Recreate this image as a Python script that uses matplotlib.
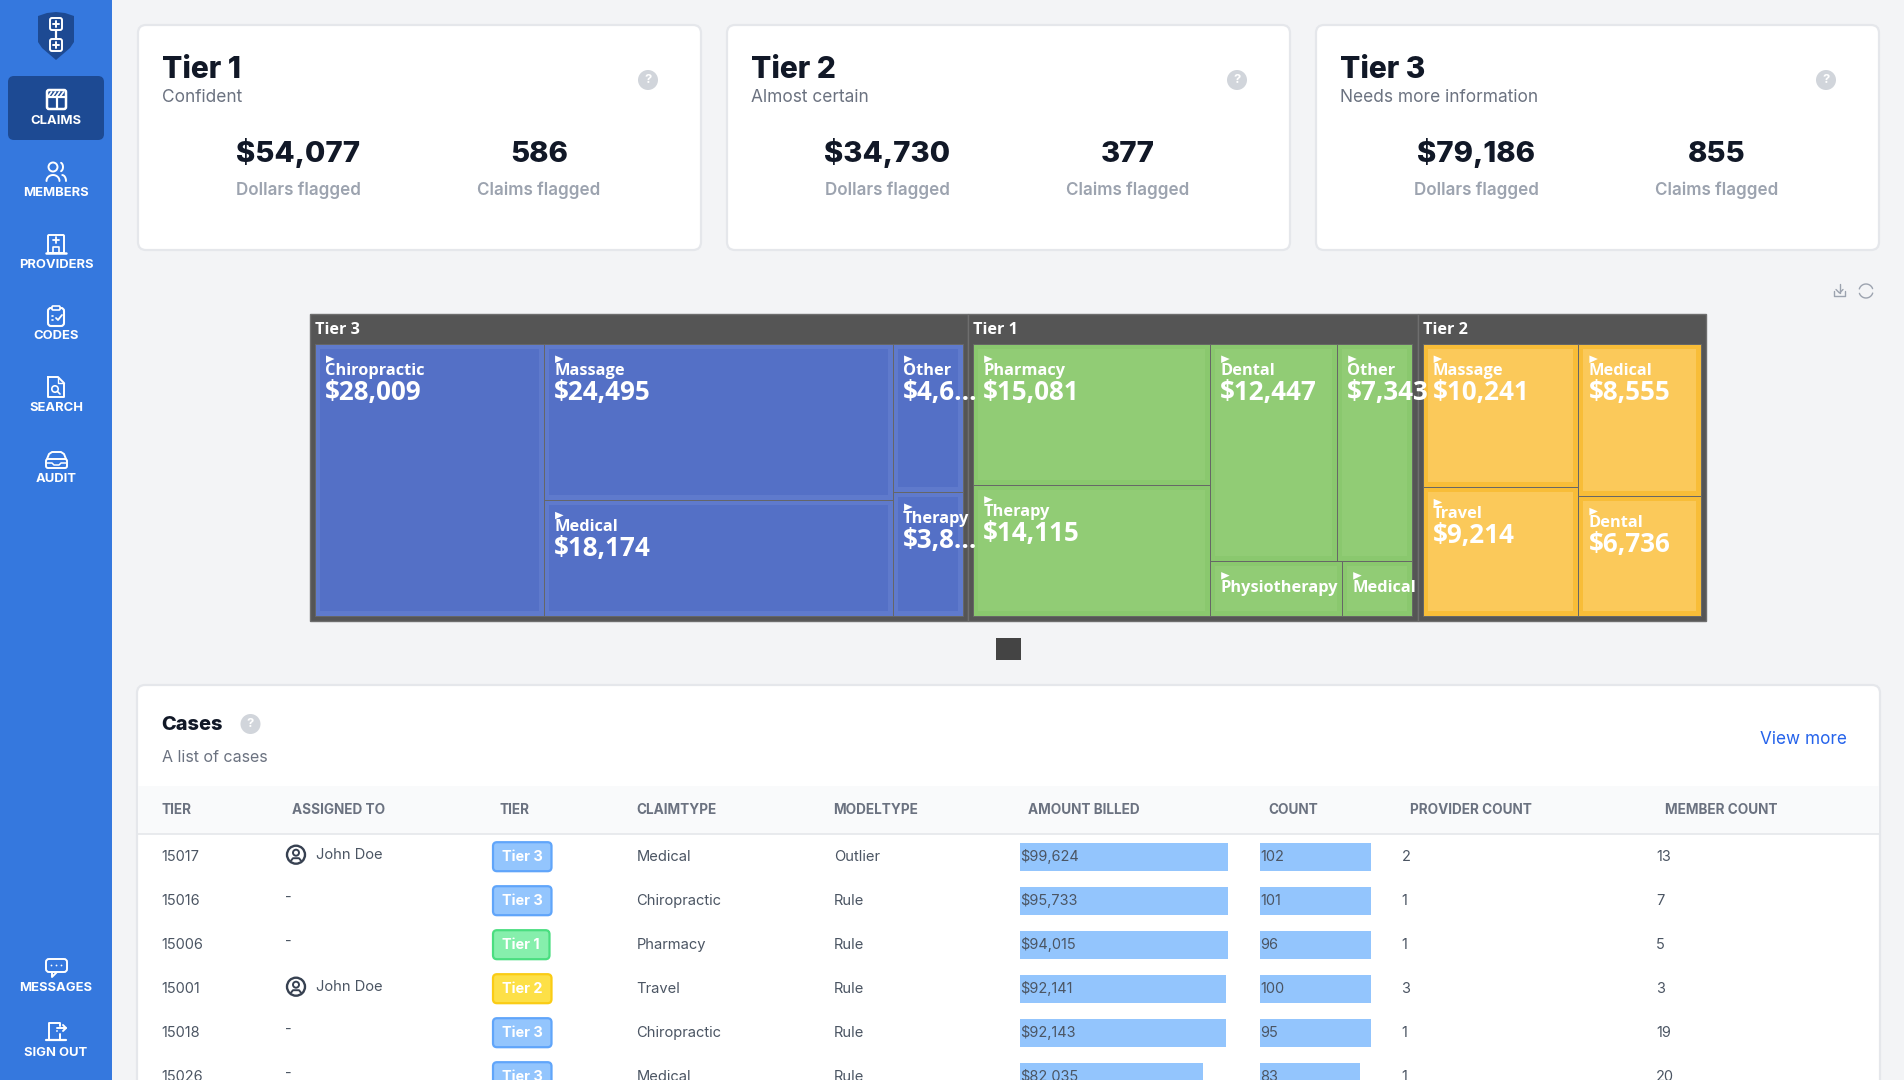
import matplotlib
matplotlib.use('Agg')
import matplotlib.pyplot as plt
import numpy as np
from matplotlib.patches import FancyBboxPatch, Rectangle, Circle, Polygon

# top cards
card_names = ['Tier 1', 'Tier 2', 'Tier 3']
card_subs = ['Confident', 'Almost certain', 'Needs more information']
card_dollars = [54077, 34730, 79186]
card_claims = [586, 377, 855]

# treemap, left to right
tier_names = ['Tier 3', 'Tier 1', 'Tier 2']
tier_totals = [79186, 54077, 34730]
tier_colors = [('#5470c6', '#5f7acc'), ('#91cc75', '#8ac86e'), ('#fbc95a', '#f8bd38')]
tier3_names = ['Chiropractic', 'Massage', 'Medical', 'Other', 'Therapy']
tier3_values = [28009, 24495, 18174, 4625, 3883]
tier3_shown = ['$28,009', '$24,495', '$18,174', '$4,6...', '$3,8...']
tier3_tree = [[0], [1, 2], [3, 4]]
tier1_names = ['Pharmacy', 'Therapy', 'Dental', 'Other', 'Physiotherapy', 'Medical']
tier1_values = [15081, 14115, 12447, 7343, 3328, 1763]
tier1_shown = ['$15,081', '$14,115', '$12,447', '$7,343', '', '']
tier1_tree = [[0, 1], [[2, 3], [4, 5]]]
tier2_names = ['Massage', 'Travel', 'Medical', 'Dental']
tier2_values = [10241, 9214, 8555, 6736]
tier2_shown = ['$10,241', '$9,214', '$8,555', '$6,736']
tier2_tree = [[0, 1], [2, 3]]

# cases table
case_ids = [15017, 15016, 15006, 15001, 15018, 15026]
case_assigned = ['John Doe', '-', '-', 'John Doe', '-', '-']
case_tiers = ['Tier 3', 'Tier 3', 'Tier 1', 'Tier 2', 'Tier 3', 'Tier 3']
case_claimtypes = ['Medical', 'Chiropractic', 'Pharmacy', 'Travel', 'Chiropractic', 'Medical']
case_modeltypes = ['Outlier', 'Rule', 'Rule', 'Rule', 'Rule', 'Rule']
case_amounts = [99624, 95733, 94015, 92141, 92143, 82035]
case_counts = [102, 101, 96, 100, 95, 83]
case_providers = [2, 1, 1, 3, 1, 1]
case_members = [13, 7, 5, 3, 19, 20]
table_headers = ['TIER', 'ASSIGNED TO', 'TIER', 'CLAIMTYPE', 'MODELTYPE',
                 'AMOUNT BILLED', 'COUNT', 'PROVIDER COUNT', 'MEMBER COUNT']
nav_top = ['CLAIMS', 'MEMBERS', 'PROVIDERS', 'CODES', 'SEARCH', 'AUDIT']
nav_bottom = ['MESSAGES', 'SIGN OUT']

UI = ['Inter', 'DejaVu Sans']
MAP = ['Open Sans', 'DejaVu Sans']
PT = 0.72  # css px to pt at dpi 100

fig = plt.figure(figsize=(19.04, 10.8), dpi=100, facecolor='#f3f4f6')
ax = fig.add_axes([0, 0, 1, 1])
ax.set_xlim(0, 1904)
ax.set_ylim(1080, 0)
ax.axis('off')


def box(x, y, w, h, fc, ec='none', lw=0, r=6, z=1):
    p = FancyBboxPatch((x, y), w, h, boxstyle='round,pad=0,rounding_size=%g' % r,
                       fc=fc, ec=ec, lw=lw, zorder=z)
    ax.add_patch(p)


def label(x, y, s, px, color='#4b5563', weight='normal', ha='left', fam=UI, z=5, va='center'):
    ax.text(x, y, s, fontsize=px * PT, color=color, fontweight=weight, ha=ha,
            va=va, family=fam, zorder=z)


def help_icon(x, y):
    ax.add_patch(Circle((x, y), 10, fc='#d1d5db', ec='none', zorder=3))
    label(x, y, '?', 13, color='white', weight='bold', ha='center')


def line(xs, ys, color='white', lw=1.4, z=4):
    ax.plot(xs, ys, color=color, lw=lw, zorder=z, solid_capstyle='round')


# sidebar
ax.add_patch(Rectangle((0, 0), 112, 1080, fc='#3578de', ec='none', zorder=1))
box(8, 76, 96, 64, '#1d4a93', z=2)
ax.add_patch(Polygon([(38, 16), (47, 13), (56, 12), (65, 13), (74, 16), (74, 42), (70, 48), (56, 60), (42, 48), (38, 42)],
                     fc='#1d4a93', ec='none', zorder=2))
line([56, 56], [30, 39], lw=1.6)
for cy in (24, 45):
    box(50, cy - 6, 12, 12, '#1d4a93', ec='white', lw=1.4, r=2, z=3)
    line([53, 59], [cy, cy])
    line([56, 56], [cy - 3, cy + 3])

nav_y = [120.7, 192.7, 264.7, 336, 408, 479]
for s, y in zip(nav_top, nav_y):
    label(56, y, s, 13, color='white', weight='bold', ha='center')
for s, y in zip(nav_bottom, [988, 1052.5]):
    label(56, y, s, 13, color='white', weight='bold', ha='center')

# claims icon
box(47, 90, 19, 19, 'none', ec='white', lw=1.8, r=2, z=4)
line([47, 66], [97, 97], lw=1.6)
line([56.5, 56.5], [97, 109], lw=1.6)
for dx in (48.5, 52.5, 56.5, 60.5):
    line([dx, dx + 3], [96, 92], lw=1.3)
# members icon
ax.add_patch(Circle((53, 167), 4.5, fc='none', ec='white', lw=1.4, zorder=4))
th = np.linspace(np.pi, 2 * np.pi, 20)
line(53 + 6.5 * np.cos(th), 181 + 6 * np.sin(th))
th2 = np.linspace(-1.2, 1.2, 12)
line(60 + 3 * np.cos(th2), 167 + 4.5 * np.sin(th2))
th3 = np.linspace(-1.5, 0, 10)
line(62 + 4 * np.cos(th3), 181 + 6 * np.sin(th3))
# providers icon
box(48, 235, 16, 18, 'none', ec='white', lw=1.4, r=1, z=4)
line([46, 66], [253, 253], lw=1.8)
line([53, 59], [240, 240], lw=1.3)
line([56, 56], [237, 243], lw=1.3)
line([53, 53, 59, 59], [253, 247, 247, 253], lw=1.2)
# codes icon
box(48, 308, 16, 18, 'none', ec='white', lw=1.5, r=3, z=4)
box(52, 306, 8, 4, '#3578de', ec='white', lw=1.2, r=1, z=5)
line([56, 58, 62], [318, 320, 315], lw=1.3)
line([52, 53], [316, 316], lw=1.2)
line([52, 53], [320, 320], lw=1.2)
# search icon
line([48, 58, 64, 64, 48, 48], [377, 377, 383, 397, 397, 377])
line([58, 58, 64], [377, 383, 383], lw=1)
ax.add_patch(Circle((55, 389), 3.2, fc='none', ec='white', lw=1.2, zorder=4))
line([57.5, 60], [391.5, 394], lw=1.2)
# audit icon
box(46, 459, 21, 9, 'none', ec='white', lw=1.4, r=2, z=4)
line([47, 49, 52, 61, 64, 66], [459, 454, 452, 452, 454, 459])
line([46, 52, 54, 59, 61, 67], [463, 463, 465, 465, 463, 463], lw=1.1)
# messages icon
box(46, 959, 21, 13, 'none', ec='white', lw=1.4, r=3, z=4)
line([52, 52, 57], [972, 977, 972])
for dx in (51.5, 56.5, 61.5):
    ax.add_patch(Circle((dx, 965.5), 0.9, fc='white', ec='none', zorder=4))
# sign out icon
line([49, 49, 60, 60], [1040, 1023, 1023, 1026])
line([60, 60], [1034, 1040])
line([46, 66], [1040, 1040], lw=1.6)
line([57, 66], [1028, 1028])
line([63, 66, 63], [1025, 1028, 1031])
ax.add_patch(Circle((57, 1031), 0.9, fc='white', ec='none', zorder=4))

# cards
card_x = [138, 727, 1316]
for x, name, sub, d, c in zip(card_x, card_names, card_subs, card_dollars, card_claims):
    box(x, 25, 563, 225, 'white', ec='#e5e7eb', lw=1.6, r=8)
    label(x + 24, 78, name, 30, color='#111827', weight='heavy', va='baseline')
    label(x + 24, 98, sub, 17.3, color='#6b7280')
    label(x + 160, 162, '${:,}'.format(d), 29.4, color='#111827', weight='heavy', ha='center', va='baseline')
    label(x + 401, 162, '{}'.format(c), 29.4, color='#111827', weight='heavy', ha='center', va='baseline')
    label(x + 160, 190, 'Dollars flagged', 17, color='#9ca3af', weight='semibold', ha='center')
    label(x + 401, 190, 'Claims flagged', 17, color='#9ca3af', weight='semibold', ha='center')
    help_icon(x + 510, 80)

# toolbar icons over the treemap
g = '#9ca3af'
line([1834, 1834, 1845, 1845], [291, 296, 296, 291], color=g, lw=1)
line([1839.5, 1839.5], [284, 293], color=g, lw=1)
line([1836, 1839.5, 1843], [289.5, 293, 289.5], color=g, lw=1)
th = np.linspace(0.3, 2.8, 20)
line(1866 + 7 * np.cos(th), 291 + 7 * np.sin(th), color=g, lw=1)
line(1866 + 7 * np.cos(th + np.pi), 291 + 7 * np.sin(th + np.pi), color=g, lw=1)


# treemap: slice each node along alternating directions, sizes come from the values
def weight(node, values):
    if isinstance(node, list):
        return sum(weight(n, values) for n in node)
    return values[node]


def place(node, values, x, y, w, h, across, out):
    if not isinstance(node, list):
        out[node] = (x, y, w, h)
        return
    total = weight(node, values)
    for n in node:
        f = weight(n, values) / total
        if across:
            place(n, values, x, y, w * f, h, False, out)
            x += w * f
        else:
            place(n, values, x, y, w, h * f, True, out)
            y += h * f


map_x, map_y, map_w, map_h = 310, 314, 1396.3, 307.3
tier_data = [(tier3_names, tier3_values, tier3_shown, tier3_tree),
             (tier1_names, tier1_values, tier1_shown, tier1_tree),
             (tier2_names, tier2_values, tier2_shown, tier2_tree)]
tx = map_x
for tname, total, (fill, band), (names, values, shown, tree) in zip(
        tier_names, tier_totals, tier_colors, tier_data):
    tw = map_w * total / sum(tier_totals)
    ax.add_patch(Rectangle((tx, map_y), tw, map_h, fc='#555555', ec='#6e6e6e', lw=1, zorder=2))
    label(tx + 5, map_y + 15.5, tname, 16.3, color='white', weight='bold', fam=MAP)
    rects = {}
    place(tree, values, tx + 5, map_y + 30, tw - 10.5, map_h - 35, True, rects)
    for i, name in enumerate(names):
        x, y, w, h = rects[i]
        ax.add_patch(Rectangle((x, y), w, h, fc=band, ec='#666666', lw=0.7, zorder=3))
        ax.add_patch(Rectangle((x + 5, y + 5), w - 10, h - 10, fc=fill, ec='none', zorder=3))
        ax.add_patch(Polygon([(x + 11, y + 11.5), (x + 19.5, y + 15), (x + 11, y + 19)],
                             fc='white', ec='none', zorder=6))
        label(x + 10, y + 27, name, 16.4, color='white', weight='bold', fam=MAP, z=6)
        if shown[i]:
            label(x + 10, y + 48.5, shown[i], 26, color='white', weight='bold', fam=MAP, z=6)
    tx += tw
ax.add_patch(Rectangle((996, 638), 25, 22, fc='#444444', ec='none', zorder=2))

# cases card runs off the bottom of the page
box(137, 685, 1743, 420, 'white', ec='#e5e7eb', lw=1.6, r=8)
label(161.5, 725, 'Cases', 20, color='#111827', weight='heavy')
help_icon(250.5, 724)
label(161.5, 757.5, 'A list of cases', 16, color='#6b7280')
label(1847, 739.5, 'View more', 17.2, color='#2563eb', ha='right')
ax.add_patch(Rectangle((138, 786), 1741, 48, fc='#f9fafb', ec='none', zorder=2))
line([138, 1879], [834, 834], color='#e5e7eb', lw=1.2, z=3)
header_x = [161.5, 292, 500, 636.5, 833.5, 1028, 1268, 1410.5, 1665]
for x, s in zip(header_x, table_headers):
    label(x, 810, s, 13.6, color='#6b7280', weight='bold')

badge_colors = {'Tier 1': ('#86efac', '#4ade80', 56.5), 'Tier 2': ('#fde047', '#facc15', 58.5),
                'Tier 3': ('#93c5fd', '#60a5fa', 58.5)}
amount_cap = 93000.0  # the page clips the bars near this value
count_cap = 92.5
rows_y = 856.7 + 44 * np.arange(len(case_ids))
amount_w = np.minimum(np.array(case_amounts) / amount_cap, 1) * 207.8
count_w = np.minimum(np.array(case_counts) / count_cap, 1) * 111.3
ax.barh(rows_y, amount_w, height=28, left=1020, color='#93c5fd', zorder=2)
ax.barh(rows_y, count_w, height=28, left=1260, color='#93c5fd', zorder=2)
for i, y in enumerate(rows_y):
    label(161.5, y, str(case_ids[i]), 14.5)
    if case_assigned[i] == '-':
        label(285, y - 3, '-', 14.5)
    else:
        ax.add_patch(Circle((296, y - 2), 9, fc='white', ec='#374151', lw=1.7, zorder=3))
        ax.add_patch(Circle((296, y - 4), 3, fc='white', ec='#374151', lw=1.4, zorder=4))
        line([291, 293, 299, 301], [y + 4, y + 1.5, y + 1.5, y + 4], color='#374151', lw=1.4)
        label(316, y - 2, case_assigned[i], 14.7)
    fc, ec, bw = badge_colors[case_tiers[i]]
    box(493, y - 14.5, bw, 29, fc, ec=ec, lw=1.6, r=4, z=3)
    label(493 + bw / 2, y, case_tiers[i], 14.5, color='white', weight='bold', ha='center')
    label(636.5, y, case_claimtypes[i], 14.7)
    label(834, y, case_modeltypes[i], 14.7)
    label(1020, y, '${:,}'.format(case_amounts[i]), 14.5)
    label(1260, y, str(case_counts[i]), 14.5)
    label(1401.5, y, str(case_providers[i]), 14.5)
    label(1656, y, str(case_members[i]), 14.5)

fig.savefig('out.png', dpi=100, facecolor=fig.get_facecolor())
